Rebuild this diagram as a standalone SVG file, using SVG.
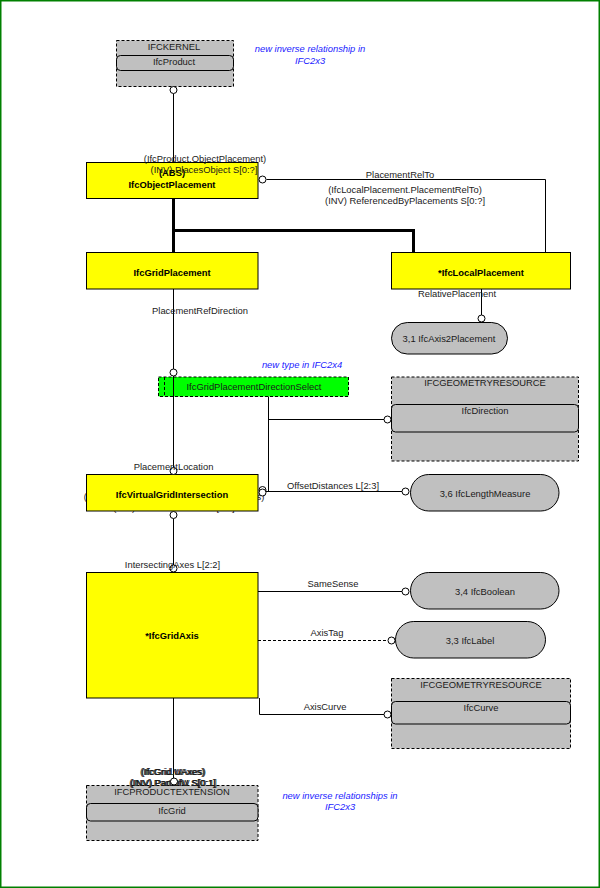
<svg xmlns="http://www.w3.org/2000/svg" width="600" height="888" viewBox="0 0 600 888">
<style>
text{font-family:"Liberation Sans",Arial,sans-serif;font-size:9.4px;fill:#1a1a1a;text-anchor:middle}
.b{font-weight:bold;fill:#000}
.note{font-style:italic;fill:#1a1aff}
.ent{fill:#ffff00;stroke:#000;stroke-width:1}
.pkg{fill:#c0c0c0;stroke:#000;stroke-width:1;stroke-dasharray:3,2}
.inner{fill:#c0c0c0;stroke:#000;stroke-width:1}
.pill{fill:#c0c0c0;stroke:#000;stroke-width:1}
.sel{fill:#00ff00;stroke:#000;stroke-width:1;stroke-dasharray:3,2}
.ln{fill:none;stroke:#000;stroke-width:1}
.dash{fill:none;stroke:#000;stroke-width:1;stroke-dasharray:3,2}
.thick{fill:none;stroke:#000;stroke-width:3}
.c{fill:#fff;stroke:#000;stroke-width:1}
</style>
<rect x="0.75" y="0.75" width="598.5" height="886.5" fill="#fff" stroke="#008000" stroke-width="1.5"/>

<g id="hidden-labels">
<text x="174" y="500">(IfcVirtualGridIntersection.IntersectingAxes)</text>
<text x="174" y="511">(INV) HasIntersections S[0:?]</text>
</g>

<g id="IfcKernel">
<rect class="pkg" x="116.5" y="40.5" width="117" height="46"/>
<text x="174" y="49.5">IFCKERNEL</text>
<rect class="inner" x="116.5" y="55.5" width="117" height="15" rx="4"/>
<text x="174" y="65">IfcProduct</text>
</g>
<g id="note1">
<text class="note" x="310" y="52">new inverse relationship in</text>
<text class="note" x="310" y="63.5">IFC2x3</text>
</g>

<g id="IfcObjectPlacement">
<rect class="ent" x="86.5" y="162.5" width="171.5" height="36"/>
<text class="b" x="172" y="176">(ABS)</text>
<text class="b" x="172" y="188">IfcObjectPlacement</text>
</g>

<g id="IfcGridPlacement">
<rect class="ent" x="86.5" y="252.5" width="171.5" height="36.5"/>
<text class="b" x="172" y="275.5">IfcGridPlacement</text>
</g>

<g id="IfcLocalPlacement">
<rect class="ent" x="391.5" y="252.5" width="179" height="36.5"/>
<text class="b" x="481" y="275.5">*IfcLocalPlacement</text>
</g>

<g id="IfcAxis2Placement">
<rect class="pill" x="391.5" y="322.5" width="116" height="31.5" rx="15.75"/>
<text x="449" y="341.5">3,1 IfcAxis2Placement</text>
</g>

<g id="note2">
<text class="note" x="302" y="367.5">new type in IFC2x4</text>
</g>

<g id="IfcGridPlacementDirectionSelect">
<rect class="sel" x="158.5" y="377" width="190" height="19.5"/>
<line class="dash" x1="164.5" y1="377" x2="164.5" y2="396.5"/>
<text x="254" y="389.5">IfcGridPlacementDirectionSelect</text>
</g>

<g id="IfcGeometryResource1">
<rect class="pkg" x="391.5" y="377" width="187" height="84"/>
<text x="485" y="386">IFCGEOMETRYRESOURCE</text>
<rect class="inner" x="391.5" y="404.5" width="187" height="27.5" rx="4"/>
<text x="485" y="414">IfcDirection</text>
</g>

<g id="IfcVirtualGridIntersection">
<rect class="ent" x="86.5" y="474.5" width="171.5" height="36.5"/>
<text class="b" x="172" y="497.5">IfcVirtualGridIntersection</text>
</g>

<g id="IfcLengthMeasure">
<rect class="pill" x="410.5" y="474.5" width="148.5" height="36.5" rx="18.25"/>
<text x="485" y="497">3,6 IfcLengthMeasure</text>
</g>

<g id="IfcGridAxis">
<rect class="ent" x="86.5" y="572.5" width="171.5" height="125.5"/>
<text class="b" x="172" y="639">*IfcGridAxis</text>
</g>

<g id="IfcBoolean">
<rect class="pill" x="410.5" y="572.5" width="148.5" height="36.5" rx="18.25"/>
<text x="485" y="595">3,4 IfcBoolean</text>
</g>

<g id="IfcLabel">
<rect class="pill" x="395.5" y="621.5" width="150" height="36.5" rx="18.25"/>
<text x="470" y="644">3,3 IfcLabel</text>
</g>

<g id="IfcGeometryResource2">
<rect class="pkg" x="391.5" y="678.5" width="179" height="70"/>
<text x="481" y="688">IFCGEOMETRYRESOURCE</text>
<rect class="inner" x="391.5" y="701.5" width="179" height="22.5" rx="4"/>
<text x="481" y="711">IfcCurve</text>
</g>

<g id="IfcProductExtension">
<rect class="pkg" x="86.5" y="785.5" width="171.5" height="55"/>
<text x="172" y="795">IFCPRODUCTEXTENSION</text>
<rect class="inner" x="86.5" y="803.5" width="171.5" height="17.5" rx="4"/>
<text x="172" y="813.5">IfcGrid</text>
</g>
<g id="note3">
<text class="note" x="340" y="798.5">new inverse relationships in</text>
<text class="note" x="340" y="810">IFC2x3</text>
</g>

<g id="connectors">
<line class="ln" x1="173.5" y1="93.5" x2="173.5" y2="162.5"/>
<circle class="c" cx="173.5" cy="90" r="3.5"/>
<text x="205" y="161.5">(IfcProduct.ObjectPlacement)</text>
<text x="204" y="173">(INV) PlacesObject S[0:?]</text>

<polyline class="ln" points="266.5,179.5 545.5,179.5 545.5,252.5"/>
<circle class="c" cx="262.5" cy="179.5" r="3.5"/>
<text x="400" y="178">PlacementRelTo</text>
<text x="405" y="193">(IfcLocalPlacement.PlacementRelTo)</text>
<text x="405" y="204">(INV) ReferencedByPlacements S[0:?]</text>

<polyline class="thick" points="173.5,198.5 173.5,252.5"/>
<polyline class="thick" points="173.5,230.5 413.5,230.5 413.5,252.5"/>

<line class="ln" x1="481.5" y1="289" x2="481.5" y2="315"/>
<circle class="c" cx="481.5" cy="318.5" r="3.5"/>
<text x="457" y="297">RelativePlacement</text>

<line class="ln" x1="173.5" y1="289" x2="173.5" y2="369"/>
<circle class="c" cx="173.5" cy="372.5" r="3.5"/>
<text x="200" y="313.5">PlacementRefDirection</text>

<line class="ln" x1="173.5" y1="376" x2="173.5" y2="467.5"/>
<circle class="c" cx="173.5" cy="471" r="3.5"/>
<text x="173.5" y="470">PlacementLocation</text>

<polyline class="ln" points="268.5,396.5 268.5,491.5 266.5,491.5"/>
<line class="ln" x1="268.5" y1="419.5" x2="384" y2="419.5"/>
<circle class="c" cx="387.5" cy="419.5" r="3.5"/>
<circle class="c" cx="262.5" cy="490" r="3.5"/>

<line class="ln" x1="262.5" y1="491.5" x2="402" y2="491.5"/>
<circle class="c" cx="262.5" cy="492.5" r="3.5"/>
<circle class="c" cx="405.5" cy="491.5" r="3.5"/>
<text x="333" y="489">OffsetDistances L[2:3]</text>

<line class="ln" x1="173.5" y1="518.5" x2="173.5" y2="565"/>
<circle class="c" cx="173.5" cy="515" r="3.5"/>
<circle class="c" cx="173.5" cy="568.5" r="3.5"/>
<text x="172.5" y="567.5">IntersectingAxes L[2:2]</text>

<line class="ln" x1="258" y1="591.5" x2="402" y2="591.5"/>
<circle class="c" cx="405.5" cy="591.5" r="3.5"/>
<text x="333" y="586.5">SameSense</text>

<line class="dash" x1="258" y1="640.5" x2="388" y2="640.5"/>
<circle class="c" cx="391.5" cy="640.5" r="3.5"/>
<text x="327" y="636">AxisTag</text>

<polyline class="ln" points="259.5,698 259.5,714.5 384,714.5"/>
<circle class="c" cx="387.5" cy="714.5" r="3.5"/>
<text x="325" y="710">AxisCurve</text>

<line class="ln" x1="173.5" y1="698" x2="173.5" y2="778"/>
<text x="173" y="775">(IfcGrid.UAxes)</text>
<text x="173" y="775">(IfcGrid.VAxes)</text>
<text x="173" y="775">(IfcGrid.WAxes)</text>
<text x="173" y="785.5">(INV) PartOfU S[0:1]</text>
<text x="173" y="785.5">(INV) PartOfV S[0:1]</text>
<text x="173" y="785.5">(INV) PartOfW S[0:1]</text>
<circle class="c" cx="174" cy="781.5" r="3.5"/>
</g>
</svg>
